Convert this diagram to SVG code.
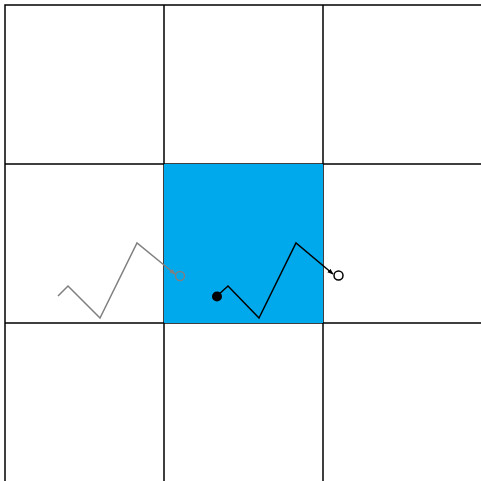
<svg xmlns="http://www.w3.org/2000/svg" width="481" height="481" viewBox="0 0 481 481">
<style>
.grid{stroke:#000;stroke-width:1.5;fill:none}
.walk{fill:none;stroke-width:1.5;stroke-linejoin:miter}
</style>
<defs>
<marker id="ab" viewBox="0 0 10 10" refX="9" refY="5" markerWidth="6" markerHeight="6" orient="auto" markerUnits="userSpaceOnUse"><path d="M0,1 L10,5 L0,9 Z" fill="#000"/></marker>
<marker id="ag" viewBox="0 0 10 10" refX="9" refY="5" markerWidth="6" markerHeight="6" orient="auto" markerUnits="userSpaceOnUse"><path d="M0,1 L10,5 L0,9 Z" fill="#808080"/></marker>
</defs>
<rect width="481" height="481" fill="#fff"/>
<g id="grid">
<path class="grid" d="M5,481 V5 H481 M164,5 V481 M323,5 V481 M5,164 H481 M5,323 H481"/>
</g>
<g id="cell"><rect x="164" y="164" width="159" height="159" fill="#00a9ec"/></g>
<g id="connectors">
<polyline class="walk" stroke="#808080" points="58,296 68,286 100,318 137,243 175,274" marker-end="url(#ag)"/>
<polyline class="walk" stroke="#000" points="217,296 228,286 259,318 296,243 333,274" marker-end="url(#ab)"/>
</g>
<g id="ghost-end"><circle cx="180" cy="276" r="4.5" fill="none" stroke="#808080" stroke-width="1.5"/></g>
<g id="start"><circle cx="217" cy="296.5" r="5" fill="#000"/></g>
<g id="end"><circle cx="338.5" cy="275.5" r="4.5" fill="#fff" stroke="#000" stroke-width="1.5"/></g>
</svg>
